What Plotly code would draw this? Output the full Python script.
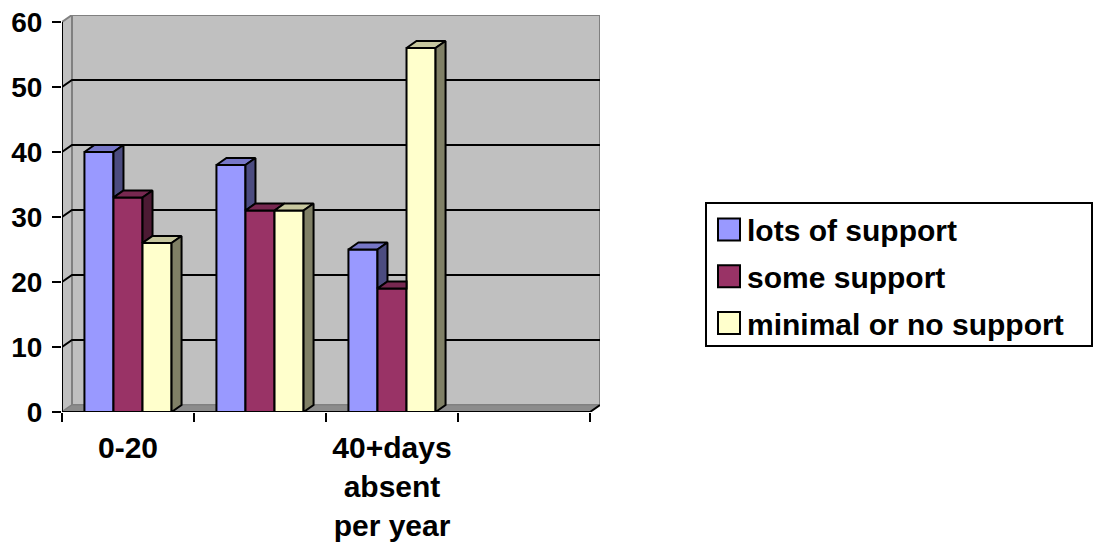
import plotly.graph_objects as go

# Category slots along the x axis; the fourth slot stays empty and only
# two of the slots carry a printed label.
category_labels = ["0-20", "", "40+days<br>absent<br>per year", ""]
category_index = [0, 1, 2]

series_names = ["lots of support", "some support", "minimal or no support"]
lots_of_support = [40, 38, 25]
some_support = [33, 31, 19]
minimal_or_no_support = [26, 31, 56]

y_tick_values = [0, 10, 20, 30, 40, 50, 60]

series_values = [lots_of_support, some_support, minimal_or_no_support]
face_colors = ["#9999FF", "#993366", "#FFFFCC"]

FONT = "Liberation Sans, Arial, sans-serif"
BAR_W = 0.22            # column width, category units
DEPTH_X = 10 / 132      # receding depth, x component (category units)
DEPTH_Y = 7 / 6.5       # receding depth, y component (value units)
X_LO, X_HI = -0.5, len(category_labels) - 0.5
Y_TOP = y_tick_values[-1]

# plot-area placement in pixels (used to lay out the legend box)
MARGIN_L, MARGIN_T, MARGIN_B = 62, 15, 134
FIG_W, FIG_H = 1095, 546
PLOT_W = 538
PLOT_H = FIG_H - MARGIN_T - MARGIN_B


def shade(hex_color, k):
    r, g, b = (int(hex_color[i:i + 2], 16) for i in (1, 3, 5))
    return f"rgb({round(r * k)},{round(g * k)},{round(b * k)})"


def path(points, close=True):
    d = "M " + " L ".join(f"{x},{y}" for x, y in points)
    return d + (" Z" if close else "")


def paper_x(px):
    return (px - MARGIN_L) / PLOT_W


def paper_y(py):
    return (MARGIN_T + PLOT_H - py) / PLOT_H


fig = go.Figure()

# front faces of the columns
for s, (name, vals, col) in enumerate(zip(series_names, series_values, face_colors)):
    fig.add_trace(go.Bar(
        x=category_index, y=vals, width=BAR_W, offset=(s - 1.5) * BAR_W,
        name=name, showlegend=False,
        marker=dict(color=col, line=dict(color="black", width=2)),
        hoverinfo="skip",
    ))

# top and right-hand faces, clipped where the neighbouring column hides them
for s, (vals, col) in enumerate(zip(series_values, face_colors)):
    tx, ty, sx, sy = [], [], [], []
    for c in category_index:
        v = vals[c]
        xl = c + (s - 1.5) * BAR_W
        xr = xl + BAR_W
        nxt = series_values[s + 1][c] if s + 1 < len(series_values) else None
        if nxt is not None and nxt > v:
            tx += [xl, xl + DEPTH_X, xr, xr, xl, None]
        else:
            tx += [xl, xl + DEPTH_X, xr + DEPTH_X, xr, xl, None]
        ty += [v, v + DEPTH_Y, v + DEPTH_Y, v, v, None]
        base = 0 if nxt is None else nxt
        if nxt is None or nxt < v:
            sx += [xr, xr + DEPTH_X, xr + DEPTH_X, xr, xr, None]
            sy += [base, base + DEPTH_Y, v + DEPTH_Y, v, base, None]
    fig.add_trace(go.Scatter(
        x=tx, y=ty, mode="lines", fill="toself", fillcolor=shade(col, 0.78),
        line=dict(color="black", width=2), showlegend=False, hoverinfo="skip"))
    if sx:
        fig.add_trace(go.Scatter(
            x=sx, y=sy, mode="lines", fill="toself", fillcolor=shade(col, 0.5),
            line=dict(color="black", width=2), showlegend=False, hoverinfo="skip"))

# walls, floor, gridlines and axis lines of the box
shapes = [
    dict(type="path", path=path([(X_LO + DEPTH_X, DEPTH_Y), (X_HI + DEPTH_X, DEPTH_Y),
                                 (X_HI + DEPTH_X, Y_TOP + DEPTH_Y), (X_LO + DEPTH_X, Y_TOP + DEPTH_Y)]),
         fillcolor="#C0C0C0", line=dict(color="#808080", width=2)),
    dict(type="path", path=path([(X_LO, 0), (X_LO + DEPTH_X, DEPTH_Y),
                                 (X_LO + DEPTH_X, Y_TOP + DEPTH_Y), (X_LO, Y_TOP)]),
         fillcolor="#C0C0C0", line=dict(color="#808080", width=2)),
    dict(type="path", path=path([(X_LO, 0), (X_HI, 0), (X_HI + DEPTH_X, DEPTH_Y),
                                 (X_LO + DEPTH_X, DEPTH_Y)]),
         fillcolor="#8C8C8C", line=dict(color="#808080", width=1)),
]
for v in y_tick_values[1:-1]:
    shapes.append(dict(type="path",
                       path=path([(X_LO, v), (X_LO + DEPTH_X, v + DEPTH_Y), (X_HI + DEPTH_X, v + DEPTH_Y)], close=False),
                       line=dict(color="black", width=2)))
shapes.append(dict(type="path", path=path([(X_LO, 0), (X_LO, Y_TOP)], close=False),
                   line=dict(color="black", width=2)))
shapes.append(dict(type="path", path=path([(X_LO, 0), (X_HI, 0), (X_HI + DEPTH_X, DEPTH_Y)], close=False),
                   line=dict(color="black", width=2)))
for sh in shapes:
    sh.update(xref="x", yref="y", layer="below")

# legend box with square swatches
LEG_L, LEG_R, LEG_T, LEG_B = 706, 1092, 203, 346
ROW0, ROW_STEP, SW = 229.5, 46.75, 22
shapes.append(dict(type="rect", xref="paper", yref="paper", layer="above",
                   x0=paper_x(LEG_L), x1=paper_x(LEG_R), y0=paper_y(LEG_B), y1=paper_y(LEG_T),
                   fillcolor="white", line=dict(color="black", width=2)))
annotations = []
for i, (name, col) in enumerate(zip(series_names, face_colors)):
    cy = ROW0 + i * ROW_STEP
    shapes.append(dict(type="rect", xref="paper", yref="paper", layer="above",
                       x0=paper_x(718), x1=paper_x(718 + SW),
                       y0=paper_y(cy + SW / 2), y1=paper_y(cy - SW / 2),
                       fillcolor=col, line=dict(color="black", width=2)))
    annotations.append(dict(xref="paper", yref="paper", x=paper_x(745), y=paper_y(cy + 1),
                            xanchor="left", yanchor="middle", showarrow=False, text=name,
                            font=dict(family=FONT, size=30, weight="bold", color="black")))

labelled = [i for i, t in enumerate(category_labels) if t]

fig.update_layout(
    width=FIG_W, height=FIG_H,
    margin=dict(l=MARGIN_L, r=FIG_W - MARGIN_L - PLOT_W, t=MARGIN_T, b=MARGIN_B, pad=0, autoexpand=False),
    paper_bgcolor="white", plot_bgcolor="white",
    barmode="overlay",
    font=dict(family=FONT, color="black"),
    shapes=shapes,
    annotations=annotations,
    showlegend=False,
    xaxis=dict(
        range=[X_LO, X_HI + DEPTH_X], showgrid=False, zeroline=False, showline=False,
        tickvals=labelled, ticktext=[category_labels[i] for i in labelled], ticks="",
        ticklabelstandoff=15,
        tickfont=dict(family=FONT, size=30, weight="bold", color="black"),
        minor=dict(tickvals=[i - 0.5 for i in range(len(category_labels) + 1)],
                   ticks="outside", ticklen=9, tickwidth=2, tickcolor="black"),
        automargin=False, fixedrange=True,
    ),
    yaxis=dict(
        range=[0, Y_TOP + DEPTH_Y], showgrid=False, zeroline=False, showline=False,
        tickvals=y_tick_values, ticks="outside", ticklen=9, tickwidth=2, tickcolor="black",
        ticklabelstandoff=4,
        tickfont=dict(family=FONT, size=28, weight="bold", color="black"),
        automargin=False, fixedrange=True,
    ),
)

fig.write_html("out.html")
